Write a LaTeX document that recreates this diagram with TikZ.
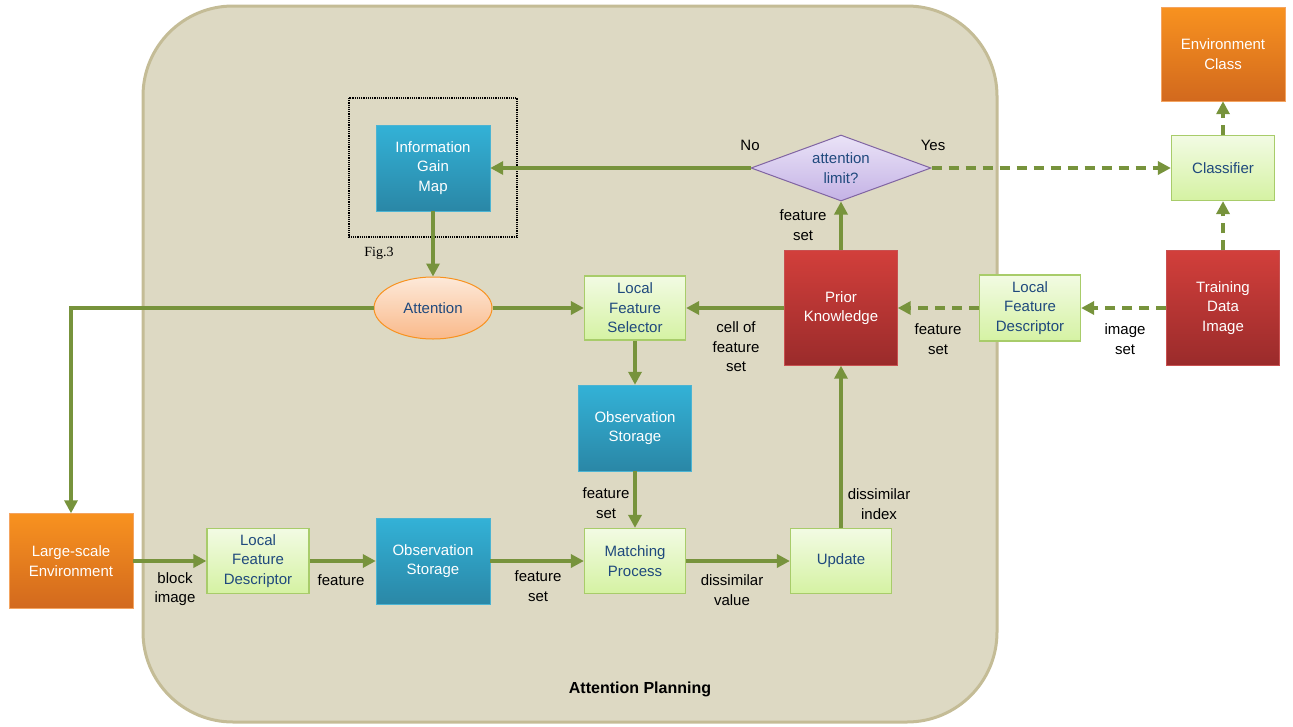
\documentclass[tikz,border=0pt]{standalone}
\usepackage{fontspec}
\setmainfont{Liberation Sans}
\newfontfamily\figfont{Liberation Serif}
\usepackage{tikz}
\usetikzlibrary{arrows.meta, shapes.geometric}

\definecolor{panel}{HTML}{DDD9C3}
\definecolor{panelline}{HTML}{C4BC96}
\definecolor{flowgreen}{HTML}{77933C}
\definecolor{txtblue}{HTML}{1F497D}
\definecolor{bluetop}{HTML}{33B2D7}
\definecolor{bluebot}{HTML}{2A87A6}
\definecolor{blueline}{HTML}{4BB4D3}
\definecolor{greentop}{HTML}{F2FBE3}
\definecolor{greenbot}{HTML}{D5F2A3}
\definecolor{greenline}{HTML}{A8CC6A}
\definecolor{orangetop}{HTML}{F8921F}
\definecolor{orangebot}{HTML}{D2691E}
\definecolor{orangeline}{HTML}{F4A460}
\definecolor{redtop}{HTML}{D23F3B}
\definecolor{redbot}{HTML}{9A2B2B}
\definecolor{redline}{HTML}{C85050}
\definecolor{liltop}{HTML}{EAE3F7}
\definecolor{lilbot}{HTML}{C4B2E5}
\definecolor{lilline}{HTML}{8064A2}
\definecolor{atttop}{HTML}{FDE9D9}
\definecolor{attbot}{HTML}{F9B98A}

\begin{document}
\begin{tikzpicture}[x=1pt, y=-1pt, >={Triangle[length=13pt,width=13pt]},
    flow/.style={->, line width=3.5pt, draw=flowgreen},
    dflow/.style={flow, dash pattern=on 10pt off 7pt},
    txt/.style={font=\fontsize{15}{19.5}\selectfont, align=center, inner sep=0pt},
    bluebox/.style={txt, text=white, draw=blueline, top color=bluetop, bottom color=bluebot},
    greenbox/.style={txt, text=txtblue, draw=greenline, line width=1.2pt, top color=greentop, bottom color=greenbot},
    orangebox/.style={txt, text=white, draw=orangeline, top color=orangetop, bottom color=orangebot},
    redbox/.style={txt, text=white, draw=redline, top color=redtop, bottom color=redbot},
    lbl/.style={txt}]
 	%%%	Help Lines
% 	\draw [thin, help lines, step=100] (0,0) grid (1293,726);
 	\useasboundingbox (0,0) rectangle (1293,726);
 	% Attention Planning panel
 	\draw[line width=3pt, draw=panelline, fill=panel, rounded corners=90pt] (143,6) rectangle (997,722);
 	\node[txt, font=\fontsize{16}{19}\selectfont\bfseries] (title) at (640,689) {Attention Planning};
 	\draw[densely dotted, line width=1.2pt] (349,98) rectangle (517,237);
 	\node[txt, font=\figfont\fontsize{14}{16}\selectfont] (fig) at (379,253) {Fig.3};
 	
 	% Nodes
 	\node[bluebox, minimum width=114pt, minimum height=86pt] (igm) at (433,168) {Information\\Gain\\Map};
 	\node[txt, text=txtblue, ellipse, draw=orangetop, line width=1pt, top color=atttop, bottom color=attbot, minimum width=118pt, minimum height=62pt] (att) at (433,308) {Attention};
 	\node[greenbox, minimum width=101pt, minimum height=64pt] (lfs) at (635,308) {Local\\Feature\\Selector};
 	\node[bluebox, minimum width=113pt, minimum height=86pt] (obsm) at (635,428) {Observation\\Storage};
 	\node[greenbox, minimum width=101pt, minimum height=65pt] (match) at (635,561) {Matching\\Process};
 	\node[greenbox, minimum width=101pt, minimum height=65pt] (upd) at (841,561) {Update};
 	\node[bluebox, minimum width=114pt, minimum height=86pt] (obsb) at (433,561) {Observation\\Storage};
 	\node[greenbox, minimum width=102pt, minimum height=65pt] (lfdb) at (258,561) {Local\\Feature\\Descriptor};
 	\node[orangebox, minimum width=124pt, minimum height=95pt] (lse) at (71,561) {Large-scale\\Environment};
 	\node[redbox, minimum width=113pt, minimum height=115pt] (prior) at (841,308) {Prior\\Knowledge};
 	\node[txt, text=txtblue, diamond, draw=lilline, line width=1pt, top color=liltop, bottom color=lilbot, minimum width=180pt, minimum height=66pt, aspect=2.7] (lim) at (841,168) {attention\\limit?};
 	\node[greenbox, minimum width=101pt, minimum height=66pt] (lfdr) at (1030,308) {Local\\Feature\\Descriptor};
 	\node[redbox, minimum width=113pt, minimum height=115pt] (train) at (1223,308) {Training\\Data\\Image};
 	\node[greenbox, minimum width=103pt, minimum height=65pt] (cls) at (1223,168) {Classifier};
 	\node[orangebox, minimum width=124pt, minimum height=94pt] (envc) at (1223,54) {Environment\\Class};
 	
 	% Labels
 	\node[lbl] (no) at (750,145) {No};
 	\node[lbl] (yes) at (933,145) {Yes};
 	\node[lbl] (fsa) at (803,225) {feature\\set};
 	\node[lbl] (cell) at (736,347) {cell of\\feature\\set};
 	\node[lbl] (fsb) at (938,339) {feature\\set};
 	\node[lbl] (imgset) at (1125,339) {image\\set};
 	\node[lbl] (fsc) at (606,503) {feature\\set};
 	\node[lbl] (blk) at (175,589) {block\\image};
 	\node[lbl] (feat) at (341,580) {feature};
 	\node[lbl] (fsd) at (538,586) {feature\\set};
 	\node[lbl] (dval) at (732,590) {dissimilar\\value};
 	\node[lbl] (didx) at (879,504) {dissimilar\\index};
 	
 	% Connectors
 	\draw[flow] (lim.west) -- (igm.east);
 	\draw[dflow] (lim.east) -- (cls.west);
 	\draw[dflow] (cls.north) -- (envc.south);
 	\draw[dflow] (train.north) -- (cls.south);
 	\draw[dflow] (train.west) -- (lfdr.east);
 	\draw[dflow] (lfdr.west) -- (prior.east);
 	\draw[flow] (prior.north) -- (lim.south);
 	\draw[flow] (prior.west) -- (lfs.east);
 	\draw[flow] (igm.south) -- (att.north);
 	\draw[flow] (att.east) -- (lfs.west);
 	\draw[flow] (att.west) -| (lse.north);
 	\draw[flow] (lfs.south) -- (obsm.north);
 	\draw[flow] (obsm.south) -- (match.north);
 	\draw[flow] (lse.east) -- (lfdb.west);
 	\draw[flow] (lfdb.east) -- (obsb.west);
 	\draw[flow] (obsb.east) -- (match.west);
 	\draw[flow] (match.east) -- (upd.west);
 	\draw[flow] (upd.north) -- (prior.south);
 	
\end{tikzpicture}
\end{document}
